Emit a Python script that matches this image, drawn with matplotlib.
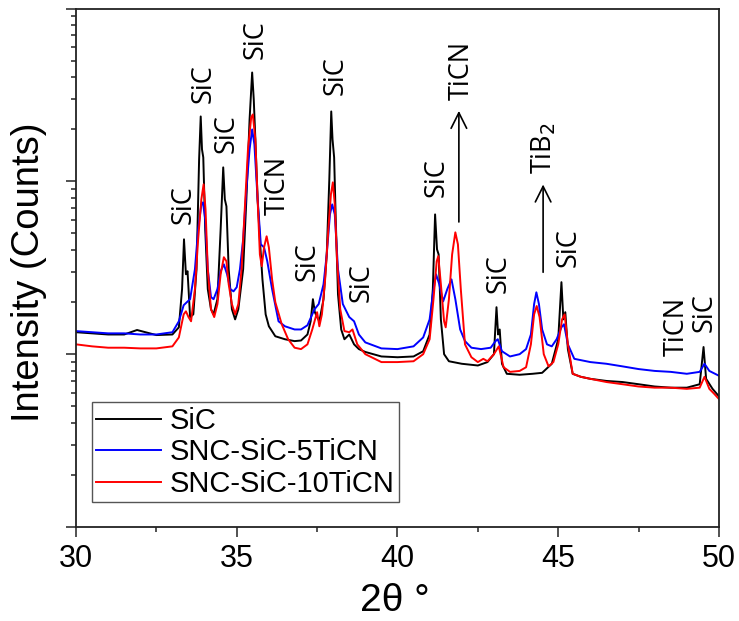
import numpy as np
import matplotlib
matplotlib.use("Agg")
import matplotlib.pyplot as plt
from matplotlib.ticker import MultipleLocator, LogLocator, NullFormatter
import matplotlib.transforms as mtransforms

# XRD patterns (2theta in degrees, intensity in counts)
sic_x = [30.0, 30.5, 31.0, 31.5, 31.9, 32.5, 33.0, 33.2, 33.3, 33.36, 33.42, 33.47, 33.55, 33.65,
         33.75, 33.83, 33.88, 33.92, 33.96, 34.02, 34.1, 34.2, 34.28, 34.4, 34.5, 34.58, 34.63,
         34.68, 34.75, 34.85, 34.95, 35.05, 35.2, 35.3, 35.4, 35.48, 35.53, 35.58, 35.65, 35.72,
         35.8, 35.9, 36.0, 36.2, 36.5, 36.8, 37.0, 37.2, 37.3, 37.37, 37.43, 37.5, 37.57, 37.7,
         37.8, 37.88, 37.94, 37.98, 38.03, 38.08, 38.15, 38.25, 38.35, 38.5, 38.65, 38.8, 39.0,
         39.5, 40.0, 40.5, 40.8, 41.0, 41.1, 41.17, 41.23, 41.28, 41.35, 41.45, 41.6, 42.0, 42.5,
         42.8, 43.0, 43.08, 43.13, 43.18, 43.25, 43.4, 43.8, 44.2, 44.5, 44.8, 45.0, 45.1, 45.16,
         45.22, 45.3, 45.45, 45.7, 46.0, 46.5, 47.0, 47.5, 48.0, 48.5, 49.0, 49.4, 49.52, 49.6,
         49.8, 50.0]
sic_y = [134, 132, 130, 130, 138, 129, 130, 143, 238, 462, 290, 302, 164, 170,
         310, 1340, 2375, 1531, 1376, 528, 238, 182, 170, 208, 528, 1205, 787,
         717, 310, 182, 159, 182, 310, 787, 2282, 4266, 2978, 1749, 787, 462,
         271, 170, 145, 127, 122, 119, 120, 130, 155, 208, 175, 164, 155, 208,
         378, 1027, 2539, 1749, 1376, 603, 222, 139, 122, 130, 114, 107, 103,
         97, 96, 97, 104, 130, 238, 644, 404, 378, 159, 100, 91, 88, 86,
         90, 100, 187, 130, 139, 88, 77, 76, 77, 78, 88, 122, 261, 159,
         175, 107, 77, 74, 72, 70, 69, 67, 65, 64, 64, 67, 110, 72,
         63, 57]

ticn5_x = [30.0, 30.5, 31.0, 31.5, 32.0, 32.5, 33.0, 33.2, 33.35, 33.45, 33.55, 33.7, 33.8, 33.9,
           33.95, 34.02, 34.1, 34.2, 34.28, 34.4, 34.5, 34.6, 34.7, 34.8, 34.9, 35.0, 35.1, 35.2,
           35.3, 35.4, 35.48, 35.55, 35.65, 35.75, 35.85, 35.95, 36.1, 36.3, 36.5, 36.8, 37.0,
           37.2, 37.35, 37.42, 37.55, 37.7, 37.8, 37.9, 37.97, 38.05, 38.15, 38.3, 38.5, 38.65,
           38.8, 39.0, 39.5, 40.0, 40.5, 40.8, 41.0, 41.1, 41.2, 41.3, 41.42, 41.55, 41.68, 41.8,
           41.95, 42.1, 42.3, 42.6, 42.9, 43.05, 43.12, 43.25, 43.5, 43.8, 44.0, 44.15, 44.25,
           44.32, 44.4, 44.5, 44.65, 44.8, 44.95, 45.1, 45.18, 45.3, 45.5, 46.0, 46.5, 47.0,
           47.5, 48.0, 48.5, 49.0, 49.4, 49.55, 49.7, 50.0]
ticn5_y = [136, 134, 132, 132, 130, 130, 134, 155, 192, 200, 208, 310, 528, 736,
           756, 603, 310, 214, 208, 238, 302, 331, 290, 238, 231, 244, 310, 462,
           899, 1531, 1998, 1636, 787, 432, 415, 345, 238, 155, 145, 139, 139,
           147, 170, 182, 195, 254, 378, 644, 736, 644, 310, 195, 164, 155,
           130, 117, 108, 107, 111, 125, 159, 222, 290, 254, 202, 238, 271, 208,
           139, 119, 109, 107, 109, 119, 122, 104, 97, 100, 107, 130, 195,
           228, 195, 139, 114, 111, 122, 143, 149, 114, 94, 90, 88, 85,
           82, 80, 79, 77, 79, 88, 80, 75]

ticn10_x = [30.0, 30.5, 31.0, 31.5, 32.0, 32.5, 33.0, 33.2, 33.35, 33.42, 33.5, 33.58, 33.7, 33.8,
            33.9, 33.97, 34.03, 34.1, 34.2, 34.3, 34.4, 34.5, 34.6, 34.68, 34.75, 34.85, 34.95,
            35.05, 35.15, 35.25, 35.35, 35.45, 35.5, 35.58, 35.65, 35.72, 35.78, 35.85, 35.93,
            36.0, 36.1, 36.2, 36.4, 36.6, 36.8, 37.0, 37.2, 37.35, 37.5, 37.57, 37.65, 37.75,
            37.85, 37.93, 37.99, 38.05, 38.12, 38.22, 38.35, 38.5, 38.6, 38.75, 39.0, 39.5, 40.0,
            40.5, 40.8, 41.0, 41.12, 41.22, 41.27, 41.35, 41.45, 41.5, 41.6, 41.7, 41.8, 41.88,
            41.97, 42.1, 42.3, 42.5, 42.67, 42.8, 43.0, 43.15, 43.3, 43.5, 43.8, 44.0, 44.15,
            44.25, 44.33, 44.42, 44.55, 44.7, 44.85, 45.0, 45.12, 45.2, 45.3, 45.45, 45.7, 46.0,
            46.5, 47.0, 47.5, 48.0, 48.5, 49.0, 49.4, 49.55, 49.7, 49.85, 50.0]
ticn10_y = [114, 111, 109, 109, 108, 108, 111, 125, 170, 177, 164, 155, 238, 462,
            787, 961, 688, 310, 182, 164, 195, 290, 364, 345, 254, 195, 170,
            195, 310, 688, 1531, 2344, 2439, 1749, 787, 378, 323, 415, 481,
            415, 271, 200, 149, 122, 109, 107, 114, 139, 175, 145, 170, 271,
            528, 841, 987, 736, 354, 182, 136, 134, 139, 114, 100, 90, 90,
            91, 100, 122, 208, 345, 369, 254, 155, 143, 208, 378, 507, 432,
            238, 114, 96, 90, 94, 91, 100, 111, 84, 79, 80, 84, 114,
            170, 190, 164, 100, 85, 90, 114, 159, 170, 114, 77, 74, 72,
            69, 67, 65, 64, 64, 63, 64, 74, 63, 59, 55]

series = [
    ("SiC", sic_x, sic_y, "black"),
    ("SNC-SiC-5TiCN", ticn5_x, ticn5_y, "blue"),
    ("SNC-SiC-10TiCN", ticn10_x, ticn10_y, "red"),
]

# phase labels: text, 2theta, height in axes fraction
peak_labels = [
    ("SiC", 33.36, 0.621), ("SiC", 33.98, 0.855), ("SiC", 34.70, 0.758),
    ("SiC", 35.60, 0.941), ("TiCN", 36.28, 0.658), ("SiC", 37.19, 0.511),
    ("SiC", 38.09, 0.870), ("SiC", 38.90, 0.471), ("SiC", 41.23, 0.673),
    ("TiCN", 42.01, 0.880), ("SiC", 43.16, 0.488), ("TiB$_2$", 44.56, 0.731),
    ("SiC", 45.33, 0.538), ("TiCN", 48.69, 0.386), ("SiC", 49.56, 0.413),
]
# arrows: 2theta, start and end heights in axes fraction
arrows = [(41.91, 0.583, 0.808), (44.53, 0.486, 0.666)]

fig = plt.figure(figsize=(7.39, 6.21), dpi=100)
ax = fig.add_axes([0.1028, 0.1514, 0.8701, 0.8348])

for name, x, y, c in series:
    ax.plot(x, y, color=c, lw=1.4, label=name)

ax.set_yscale("log")
ax.set_xlim(30, 50)
ax.set_ylim(10, 10000)

ax.xaxis.set_major_locator(MultipleLocator(5))
ax.xaxis.set_minor_locator(MultipleLocator(2.5))
ax.yaxis.set_major_locator(LogLocator(base=10))
ax.yaxis.set_minor_locator(LogLocator(base=10, subs=np.arange(2, 10)))
ax.yaxis.set_major_formatter(NullFormatter())
ax.yaxis.set_minor_formatter(NullFormatter())

ax.tick_params(which="both", direction="out", top=False, right=False, color="#222222", width=1.1)
ax.tick_params(which="major", length=7, pad=5, labelsize=22, labelfontfamily="Liberation Sans")
ax.tick_params(which="minor", length=3.8)
for sp in ax.spines.values():
    sp.set_linewidth(1.3)
    sp.set_color("#222222")

ax.set_xlabel("2\u03b8 \u00b0", fontsize=28, family="Liberation Sans", va="center")
ax.xaxis.set_label_coords(0.496, -0.143)
ax.set_ylabel("Intensity (Counts)", fontsize=27.5, family="Liberation Sans", va="center")
ax.yaxis.set_label_coords(-0.073, 0.492)

trans = mtransforms.blended_transform_factory(ax.transData, ax.transAxes)
for txt, xv, yf in peak_labels:
    ax.text(xv, yf, txt, transform=trans, rotation=90, ha="center", va="center",
            fontsize=19.5, family="Open Sans", color="black")
for xv, y0, y1 in arrows:
    ax.annotate("", xy=(xv, y1), xytext=(xv, y0), xycoords=trans, textcoords=trans,
                arrowprops=dict(arrowstyle="->", lw=1.2, color="black", mutation_scale=28))

leg = ax.legend(loc="lower left", bbox_to_anchor=(0.025, 0.048), fancybox=False,
                prop={"family": "Liberation Sans", "size": 21}, handlelength=2.2,
                handletextpad=0.3, labelspacing=0.12, borderpad=0.15, borderaxespad=0,
                framealpha=1)
leg.get_frame().set_edgecolor("#555555")
leg.get_frame().set_linewidth(1.0)

fig.savefig("out.png", dpi=100)
